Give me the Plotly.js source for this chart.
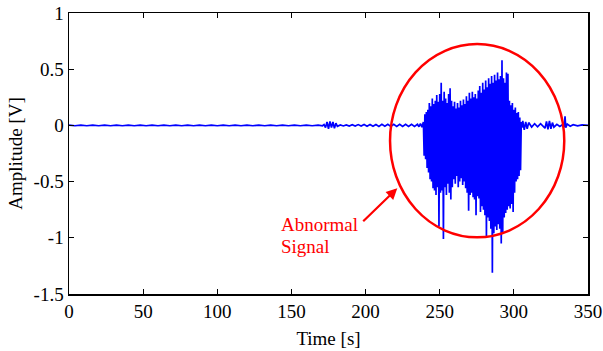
<!DOCTYPE html>
<html>
<head>
<meta charset="utf-8">
<script src="https://cdn.plot.ly/plotly-3.0.1.min.js"></script>
<style>html,body{margin:0;padding:0;background:#fff;}#chart{width:603px;height:351px;}</style>
</head>
<body>
<div id="chart"></div>
<script>
// Quiet baseline before the event
var quietTime = [0,4,8,12,16,20,24,28,32,36,40,44,48,52,56,60,64,68,72,76,80,84,88,92,96,100,104,108,112,116,120,124,128,132,136,140,144,148,152,156,160,164,168,171];
var quietAmp  = [0.002,-0.003,0.003,-0.003,0.003,-0.003,0.003,-0.003,0.003,-0.003,0.003,-0.003,0.003,-0.003,0.003,-0.003,0.003,-0.003,0.003,-0.003,0.003,-0.003,0.003,-0.003,0.003,-0.003,0.003,-0.003,0.003,-0.003,0.003,-0.003,0.003,-0.003,0.003,-0.003,0.003,-0.003,0.003,-0.003,0.003,-0.003,0.003,-0.003];

// Small disturbance near 175 s and pre-event noise
var preTime = [172,173,174,175,176,177,178,179,180,181,183,185,187,189,191,193,195,197,199,201,203,205,207,209,211,213,215,217,219,221,223,225,227,229,231,233,235,236,237,238];
var preAmp  = [0.008,-0.02,0.03,-0.03,0.035,-0.02,0.03,-0.025,0.02,-0.008,0.004,-0.005,0.005,-0.006,0.006,-0.006,0.007,-0.006,0.008,-0.007,0.008,-0.008,0.008,-0.009,0.009,-0.008,0.009,-0.01,0.01,-0.009,0.01,-0.01,0.009,-0.01,0.01,-0.009,0.01,-0.012,0.015,-0.015];

// Abnormal burst (upper / lower excursions)
var burstTime = [239.0,239.5,240.0,240.5,241.0,241.5,242.0,242.5,243.0,243.5,244.0,244.5,245.0,245.5,246.0,246.5,247.0,247.5,248.0,248.5,249.0,249.5,250.0,250.5,251.0,251.5,252.0,252.5,253.0,253.5,254.0,254.5,255.0,255.5,256.0,256.5,257.0,257.5,258.0,258.5,259.0,259.5,260.0,260.5,261.0,261.5,262.0,262.5,263.0,263.5,264.0,264.5,265.0,265.5,266.0,266.5,267.0,267.5,268.0,268.5,269.0,269.5,270.0,270.5,271.0,271.5,272.0,272.5,273.0,273.5,274.0,274.5,275.0,275.5,276.0,276.5,277.0,277.5,278.0,278.5,279.0,279.5,280.0,280.5,281.0,281.5,282.0,282.5,283.0,283.5,284.0,284.5,285.0,285.5,286.0,286.5,287.0,287.5,288.0,288.5,289.0,289.5,290.0,290.5,291.0,291.5,292.0,292.5,293.0,293.5,294.0,294.5,295.0,295.5,296.0,296.5,297.0,297.5,298.0,298.5,299.0,299.5,300.0,300.5,301.0,301.5,302.0,302.5,303.0,303.5,304.0,304.5,305.0];
var burstAmp  = [0.03,-0.27,0.10,-0.30,0.12,-0.38,0.14,-0.42,0.20,-0.48,0.17,-0.50,0.24,-0.56,0.19,-0.58,0.22,-0.62,0.27,-0.55,0.21,-0.90,0.28,-0.60,0.38,-0.58,0.22,-1.01,0.30,-0.55,0.24,-0.62,0.20,-0.52,0.28,-0.60,0.33,-0.66,0.22,-0.55,0.17,-0.48,0.21,-0.52,0.15,-0.45,0.20,-0.55,0.16,-0.50,0.22,-0.47,0.18,-0.53,0.23,-0.50,0.19,-0.56,0.26,-0.60,0.22,-0.76,0.29,-0.62,0.24,-0.60,0.30,-0.64,0.25,-0.66,0.28,-0.80,0.24,-0.63,0.31,-0.65,0.35,-0.77,0.29,-0.72,0.38,-0.75,0.32,-0.80,0.40,-0.99,0.34,-0.82,0.42,-0.85,0.37,-0.92,0.44,-1.31,0.38,-0.96,0.45,-0.90,0.40,-0.93,0.47,-0.88,0.41,-0.92,0.44,-1.05,0.58,-0.95,0.42,-0.82,0.38,-0.78,0.47,-0.75,0.46,-0.72,0.22,-0.74,0.18,-0.70,0.20,-0.77,0.14,-0.60,0.16,-0.50,0.11,-0.48,0.12,-0.45,0.07,-0.40,0.03];

// Tail after the event
var postTime = [305.5,306,307,308,309,310,312,314,316,318,320,321,322,323,324,325,326,327,329,331,333,334,334.5,335,336,338,340,343,346,350];
var postAmp  = [-0.02,0.04,-0.04,0.03,-0.03,0.025,-0.015,0.015,-0.012,0.015,-0.015,-0.025,0.035,-0.035,0.04,-0.03,0.025,-0.015,0.01,-0.01,0.008,-0.015,0.08,-0.02,0.012,-0.008,0.006,-0.004,0.004,0.0];

var time = quietTime.concat(preTime, burstTime, postTime);
var amplitude = quietAmp.concat(preAmp, burstAmp, postAmp);

var xTickVals = [0,50,100,150,200,250,300,350];
var xTickText = ['0','50','100','150','200','250','300','350'];
var yTickVals = [-1.5,-1,-0.5,0,0.5,1];
var yTickText = ['-1.5','-1','-0.5','0','0.5','1'];

var FONT = 'Liberation Serif';

var trace = {
  x: time, y: amplitude, type: 'scatter', mode: 'lines',
  line: {color: '#0000ff', width: 1.7},
  hoverinfo: 'skip', showlegend: false
};

var axisCommon = {
  showline: true, linecolor: '#000', linewidth: 1.5, mirror: 'ticks',
  ticks: 'inside', ticklen: 5, tickwidth: 1, tickcolor: '#000',
  showgrid: false, zeroline: false, tickmode: 'array',
  tickfont: {family: FONT, size: 19, color: '#000'}
};

var layout = {
  width: 603, height: 351,
  margin: {l: 69, r: 15, t: 13, b: 57},
  paper_bgcolor: '#fff', plot_bgcolor: '#fff',
  font: {family: FONT, color: '#000'},
  xaxis: Object.assign({}, axisCommon, {
    range: [0, 350], tickvals: xTickVals, ticktext: xTickText,
    title: {text: 'Time [s]', font: {family: FONT, size: 19, color: '#000'}, standoff: 10}
  }),
  yaxis: Object.assign({}, axisCommon, {
    range: [-1.5, 1], tickvals: yTickVals, ticktext: yTickText,
    title: {text: 'Amplitude [V]', font: {family: FONT, size: 19, color: '#000'}, standoff: 6}
  }),
  shapes: [{
    type: 'circle', xref: 'x', yref: 'y',
    x0: 216.5, x1: 334, y0: -0.996, y1: 0.724,
    line: {color: '#ff0000', width: 2.5}
  }],
  annotations: [
    {x: 221.4, y: -0.56, xref: 'x', yref: 'y', axref: 'x', ayref: 'y', ax: 197.4, ay: -0.866,
     text: '', showarrow: true, arrowhead: 2, arrowsize: 1, arrowwidth: 2.2, arrowcolor: '#ff0000'},
    {x: 141.6, y: -0.886, xref: 'x', yref: 'y', xanchor: 'left', yanchor: 'middle', showarrow: false,
     text: 'Abnormal', font: {family: FONT, size: 19, color: '#ff0000'}},
    {x: 141.6, y: -1.073, xref: 'x', yref: 'y', xanchor: 'left', yanchor: 'middle', showarrow: false,
     text: 'Signal', font: {family: FONT, size: 19, color: '#ff0000'}}
  ]
};

Plotly.newPlot('chart', [trace], layout, {staticPlot: true, displayModeBar: false});
</script>
</body>
</html>
